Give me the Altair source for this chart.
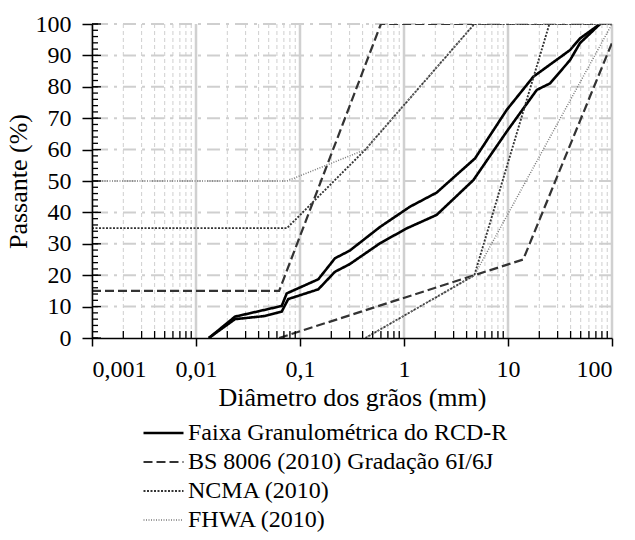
import altair as alt
import pandas as pd

# ---- data ----
series_names = ["Faixa Granulométrica do RCD-R", "BS 8006 (2010) Gradação 6I/6J",
                "NCMA (2010)", "FHWA (2010)"]

faixa_sup_d = [0.0133, 0.0237, 0.0667, 0.0745, 0.15, 0.217, 0.30, 0.59, 1.14, 2.06,
               4.82, 9.7, 17.5, 39.5, 49.2, 76.7]
faixa_sup_p = [0, 6.8, 10.2, 14.2, 18.7, 25.4, 27.8, 35.4, 41.8, 46.3,
               57.2, 72.6, 83.2, 91.7, 95.4, 100]
faixa_inf_d = [0.0133, 0.0237, 0.046, 0.0667, 0.077, 0.15, 0.217, 0.30, 0.59, 1.06,
               2.06, 4.65, 9.7, 18.9, 25.4, 39.5, 49.2, 76.7]
faixa_inf_p = [0, 6.0, 7.0, 8.4, 12.4, 15.5, 21.1, 23.5, 30.2, 34.9,
               39.2, 50.3, 65.7, 79.0, 81.1, 88.5, 93.9, 100]
bs_sup_d = [0.001, 0.063, 0.6, 100]
bs_sup_p = [15, 15, 100, 100]
bs_inf_d = [0.063, 14, 100]
bs_inf_p = [0, 25, 94]
ncma_sup_d = [0.001, 0.075, 0.425, 4.75, 100]
ncma_sup_p = [35, 35, 60, 100, 100]
ncma_inf_d = [0.425, 4.75, 25]
ncma_inf_p = [0, 20, 100]
fhwa_sup_d = [0.001, 0.075, 0.425, 4.75, 100]
fhwa_sup_p = [50, 50, 60, 100, 100]
fhwa_inf_d = [0.425, 4.75, 100]
fhwa_inf_p = [0, 20, 100]

x_major = [0.001, 0.01, 0.1, 1, 10, 100]
x_minor = [m * 10.0 ** e for e in range(-3, 2) for m in range(2, 10)]
y_major = [0, 10, 20, 30, 40, 50, 60, 70, 80, 90, 100]
y_grid = [10, 20, 30, 40, 50, 60, 70, 80, 90, 100]
y_minor = list(range(0, 101, 2))

# ---- build long table ----
rows = []
curves = [
    (series_names[0], "sup", faixa_sup_d, faixa_sup_p),
    (series_names[0], "inf", faixa_inf_d, faixa_inf_p),
    (series_names[1], "sup", bs_sup_d, bs_sup_p),
    (series_names[1], "inf", bs_inf_d, bs_inf_p),
    (series_names[2], "sup", ncma_sup_d, ncma_sup_p),
    (series_names[2], "inf", ncma_inf_d, ncma_inf_p),
    (series_names[3], "sup", fhwa_sup_d, fhwa_sup_p),
    (series_names[3], "inf", fhwa_inf_d, fhwa_inf_p),
]
for s, part, ds, ps in curves:
    for i, (d, p) in enumerate(zip(ds, ps)):
        rows.append({"serie": s, "curva": s + part, "ordem": i, "d": d, "p": p})
df = pd.DataFrame(rows)

FONT = "Liberation Serif"
W, H = 520, 314

xscale = alt.Scale(type="log", domain=[0.001, 100], nice=False)
yscale = alt.Scale(domain=[0, 100], nice=False)

common = dict(labelFont=FONT, titleFont=FONT, labelFontSize=24, titleFontSize=26,
              labelColor="#000", titleColor="#000", titleFontWeight="normal",
              domainColor="#000", domainWidth=1.5, tickColor="#000", tickWidth=1.5,
              grid=False, zindex=1)
xaxis = alt.Axis(values=x_major, labelExpr="replace(toString(datum.value), '.', ',')",
                 title="Diâmetro dos grãos (mm)", tickSize=8,
                 labelPadding=11, titlePadding=3, **common)
yaxis = alt.Axis(values=y_major, title="Passante (%)", tickSize=10,
                 labelPadding=11, titlePadding=4, **common)

X = alt.X("d:Q", scale=xscale, axis=xaxis)
Y = alt.Y("p:Q", scale=yscale, axis=yaxis)

hgrid = alt.Chart(pd.DataFrame({"p": y_grid})).mark_rule(
    color="#cfcfcf", strokeWidth=2, strokeDash=[13, 6, 3, 6]).encode(y=Y)
vminor = alt.Chart(pd.DataFrame({"d": x_minor})).mark_rule(
    color="#cfcfcf", strokeWidth=1, strokeDash=[4, 3]).encode(x=X)
vmajor = alt.Chart(pd.DataFrame({"d": x_major})).mark_rule(
    color="#d0d0d0", strokeWidth=2.5).encode(x=X)

legend = alt.Legend(orient="none", legendX=50, legendY=397, direction="vertical",
                    title=None, symbolType="stroke", symbolSize=1600,
                    labelFont=FONT, labelFontSize=24, labelColor="#000", labelLimit=500,
                    labelOffset=3, rowPadding=5, padding=0, clipHeight=24)

lines = alt.Chart(df).mark_line(clip=True).encode(
    x=X, y=Y, detail="curva:N", order="ordem:Q",
    color=alt.Color("serie:N", scale=alt.Scale(domain=series_names,
                    range=["#000000", "#333333", "#333333", "#7a7a7a"]), legend=legend),
    strokeDash=alt.StrokeDash("serie:N", scale=alt.Scale(domain=series_names,
                    range=[[1, 0], [9, 4], [2, 1.5], [1, 1.5]]), legend=legend),
    strokeWidth=alt.StrokeWidth("serie:N", scale=alt.Scale(domain=series_names,
                    range=[2.6, 1.5, 1.5, 1.2]), legend=legend),
)

xticks_in = alt.Chart(pd.DataFrame({"d": x_minor})).mark_rule(
    color="#000", strokeWidth=1.3).encode(x=X, y=alt.value(H), y2=alt.value(H - 7))
yticks_in = alt.Chart(pd.DataFrame({"p": y_minor})).mark_rule(
    color="#000", strokeWidth=1.3).encode(y=Y, x=alt.value(0), x2=alt.value(6))
yticks_in_major = alt.Chart(pd.DataFrame({"p": y_major})).mark_rule(
    color="#000", strokeWidth=1.3).encode(y=Y, x=alt.value(0), x2=alt.value(9))

chart = alt.layer(hgrid, vminor, vmajor, lines, xticks_in, yticks_in, yticks_in_major).properties(
    width=W, height=H,
    background="white",
    autosize=alt.AutoSizeParams(type="none"),
    padding={"left": 92, "top": 24, "right": 23, "bottom": 202},
).configure_view(stroke=None)

chart.save("out.html", embed_options={"renderer": "svg", "actions": False})
